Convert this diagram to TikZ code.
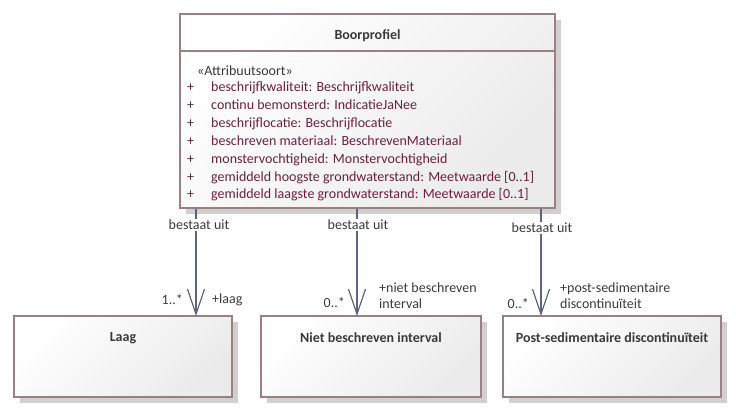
\documentclass[tikz,border=0pt]{standalone}
\usepackage{fontspec}
\setmainfont{Carlito}
\usetikzlibrary{arrows.meta}
\definecolor{boxline}{HTML}{9C7F80}
\definecolor{attr}{HTML}{6E1F3E}
\definecolor{conn}{HTML}{5C6580}
\definecolor{txt}{HTML}{3A3A3A}
\definecolor{shad}{HTML}{D0D0D0}
\tikzset{
  classbox/.style={draw=boxline, line width=1.3pt, top color=white, bottom color=black!8, shading angle=45},
  shadowbox/.style={fill=shad, draw=none},
  lbl/.style={font=\fontsize{14}{16}\selectfont, text=txt, inner sep=0pt},
  ttl/.style={font=\fontsize{14}{16}\selectfont\bfseries, text=txt, inner sep=0pt},
  atxt/.style={font=\fontsize{14}{16}\selectfont, text=attr, inner sep=0pt, anchor=base west},
  conn/.style={draw=conn, line width=1.2pt, -{Straight Barb[length=25pt,width=17pt,line width=1.2pt]}}
}
\begin{document}
\begin{tikzpicture}[x=1pt,y=-1pt]
\useasboundingbox (0,0) rectangle (736,412);
% shadows
\path[shadowbox] (186,20) rectangle (561,214);
\path[shadowbox] (20,322) rectangle (238,403);
\path[shadowbox] (267,322) rectangle (487,403);
\path[shadowbox] (509,322) rectangle (727,403);
% main class
\path[classbox] (180,14) rectangle (555,208);
\draw[boxline, line width=1.3pt] (180,51) -- (555,51);
\node[ttl] (title) at (367.5,36) {Boorprofiel};
\node[lbl, anchor=base west] (stereo) at (197,76) {«Attribuutsoort»};
\foreach \i/\t in {0/{beschrijfkwaliteit: Beschrijfkwaliteit},
                   1/{continu bemonsterd: IndicatieJaNee},
                   2/{beschrijflocatie: Beschrijflocatie},
                   3/{beschreven materiaal: BeschrevenMateriaal},
                   4/{monstervochtigheid: Monstervochtigheid},
                   5/{gemiddeld hoogste grondwaterstand: Meetwaarde [0..1]},
                   6/{gemiddeld laagste grondwaterstand: Meetwaarde [0..1]}}{
  \node[atxt] (p\i) at (187,{92+17.8*\i}) {+};
  \node[atxt] (a\i) at (211,{92+17.8*\i}) {\t};
}
% bottom classes
\path[classbox] (14,316) rectangle (232,397);
\node[ttl] (laag) at (123,338) {Laag};
\path[classbox] (261,316) rectangle (481,397);
\node[ttl] (niet) at (371,338) {Niet beschreven interval};
\path[classbox] (503,316) rectangle (721,397);
\node[ttl] (post) at (612,338) {Post-sedimentaire discontinuïteit};
% connector anchors
\coordinate (s1) at (196,209); \coordinate (e1) at (196,316);
\coordinate (s2) at (357,209); \coordinate (e2) at (357,316);
\coordinate (s3) at (541,209); \coordinate (e3) at (541,316);
\draw[conn] (s1) -- (e1);
\draw[conn] (s2) -- (e2);
\draw[conn] (s3) -- (e3);
% labels
\node[lbl, fill=white, inner sep=1pt] (b1) at (199,225) {bestaat uit};
\node[lbl, fill=white, inner sep=1pt] (b2) at (358,225) {bestaat uit};
\node[lbl, fill=white, inner sep=1pt] (b3) at (542,228) {bestaat uit};
\node[lbl, anchor=east] (m1) at (183,300) {1..*};
\node[lbl, anchor=west] (r1) at (212,300) {+laag};
\node[lbl, anchor=east] (m2) at (345,303) {0..*};
\node[lbl, anchor=west, align=left] (r2) at (379,296) {+niet beschreven\\interval};
\node[lbl, anchor=east] (m3) at (529,304) {0..*};
\node[lbl, anchor=west, align=left] (r3) at (560,296) {+post-sedimentaire\\discontinuïteit};
\end{tikzpicture}
\end{document}
